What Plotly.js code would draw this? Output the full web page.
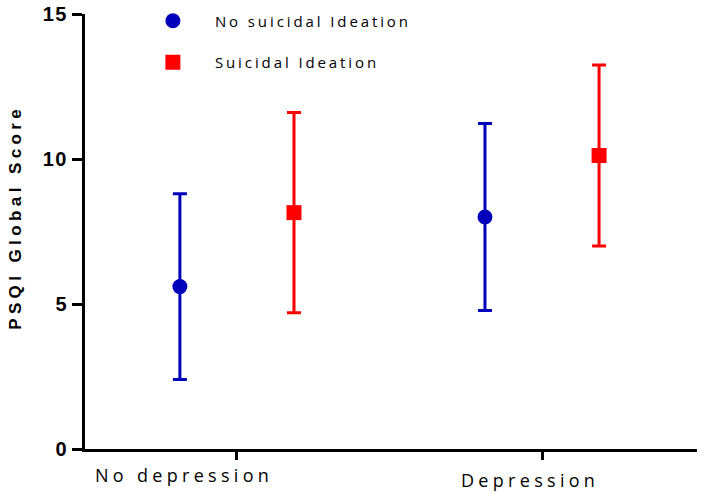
<!DOCTYPE html>
<html>
<head>
<meta charset="utf-8">
<script src="https://cdn.plot.ly/plotly-3.0.1.min.js"></script>
<style>
  body { margin: 0; background: #fff; }
  #chart { width: 704px; height: 499px; }
  .legendtext { letter-spacing: 2.9px; }
  .annotation-text { letter-spacing: 4.3px; }
  .ytitle-ann .annotation-text { letter-spacing: 4.4px; }
  .ytick text { letter-spacing: 1.5px; }
</style>
</head>
<body>
<div id="chart"></div>
<script>
// Data
const categories = ["No depression", "Depression"];
const seriesNames = ["No suicidal Ideation", "Suicidal Ideation"];
const noSIMean = [5.6, 8.0];
const noSIErr = [3.2, 3.22];
const siMean = [8.15, 10.12];
const siErr = [3.45, 3.12];
const yTicks = [0, 5, 10, 15];
const yTitle = "PSQI Global Score";

const catIndex = categories.map((c, i) => i);
const offset = 0.187;

const blue = "#0000BB";
const red = "#FF0000";

const traces = [
  {
    type: "scatter", mode: "markers", name: seriesNames[0], legendgroup: "a",
    x: catIndex.map(i => i - offset), y: noSIMean,
    text: categories,
    marker: { color: blue, symbol: "circle", size: 15 },
    error_y: { type: "data", array: noSIErr, visible: true, color: blue, thickness: 3, width: 7 }
  },
  {
    type: "scatter", mode: "markers", name: seriesNames[1], legendgroup: "b",
    x: catIndex.map(i => i + offset), y: siMean,
    text: categories,
    marker: { color: red, symbol: "square", size: 15 },
    error_y: { type: "data", array: siErr, visible: true, color: red, thickness: 3, width: 7 }
  }
];

const layout = {
  width: 704, height: 499,
  margin: { l: 85, r: 7, t: 14, b: 50, autoexpand: false },
  paper_bgcolor: "#fff", plot_bgcolor: "#fff",
  showlegend: true,
  legend: {
    x: 0.075, y: 1.022, xanchor: "left", yanchor: "top",
    bgcolor: "rgba(0,0,0,0)",
    font: { family: "Open Sans, Liberation Sans, sans-serif", size: 15, color: "#000" },
    itemwidth: 74, traceorder: "grouped", tracegroupgap: 19
  },
  xaxis: {
    range: [-0.498, 1.508], automargin: false,
    tickvals: catIndex, ticktext: categories, showticklabels: false,
    ticks: "outside", ticklen: 8, tickwidth: 3, tickcolor: "#000",
    showline: true, linewidth: 3, linecolor: "#000",
    showgrid: false, zeroline: false, fixedrange: true
  },
  yaxis: {
    range: [0, 15], automargin: false,
    tickvals: yTicks, ticktext: yTicks.map(String),
    ticks: "outside", ticklen: 10, tickwidth: 3, tickcolor: "#000",
    tickfont: { family: "Liberation Sans, Arial, sans-serif", size: 20, color: "#000", weight: "bold" },
    showline: true, linewidth: 3, linecolor: "#000",
    showgrid: false, zeroline: false
  },
  annotations: [
    { xref: "paper", yref: "paper", x: 99 / 612, y: (449 - 475) / 435, xanchor: "center", yanchor: "middle",
      text: categories[0], showarrow: false,
      font: { family: "Open Sans, Liberation Sans, sans-serif", size: 18, color: "#000" } },
    { xref: "paper", yref: "paper", x: 445 / 612, y: (449 - 480) / 435, xanchor: "center", yanchor: "middle",
      text: categories[1], showarrow: false,
      font: { family: "Open Sans, Liberation Sans, sans-serif", size: 18, color: "#000" } },
    { xref: "paper", yref: "paper", x: (15 - 85) / 612, y: (449 - 218) / 435, xanchor: "center", yanchor: "middle",
      text: "<b>" + yTitle + "</b>", textangle: -90, showarrow: false, name: "ytitle",
      font: { family: "Liberation Sans, Arial, sans-serif", size: 17, color: "#000" } }
  ]
};

Plotly.newPlot("chart", traces, layout, { displayModeBar: false, staticPlot: true }).then(() => {
  const anns = document.querySelectorAll(".annotation");
  if (anns.length) anns[anns.length - 1].classList.add("ytitle-ann");
});
</script>
</body>
</html>
